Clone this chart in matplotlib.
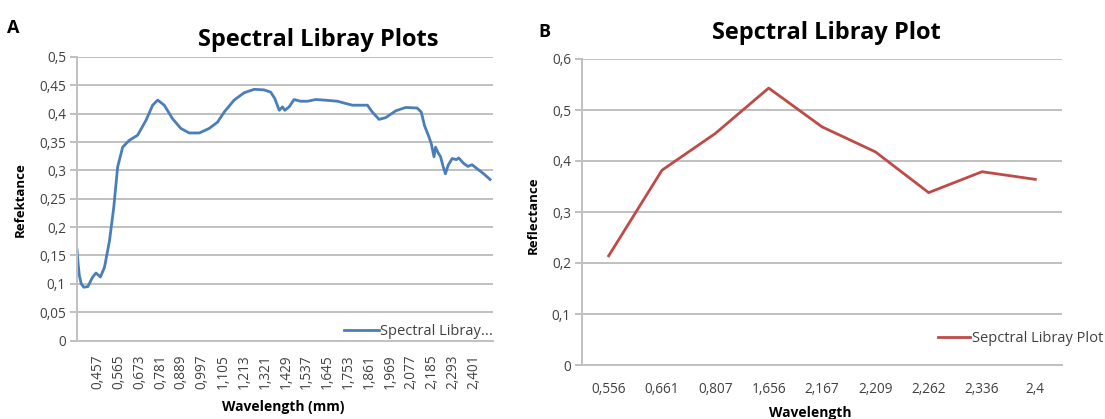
import matplotlib
matplotlib.use("Agg")
import matplotlib.pyplot as plt

plt.rcParams['font.family'] = ['Open Sans', 'DejaVu Sans']

# panel A: spectral curve (wavelength in um, reflectance)
wave_a = [0.350, 0.356, 0.362, 0.372, 0.385, 0.406, 0.431, 0.448, 0.471, 0.492,
          0.518, 0.540, 0.560, 0.586, 0.620, 0.663, 0.706, 0.741, 0.767, 0.801,
          0.844, 0.887, 0.930, 0.982, 1.033, 1.076, 1.111, 1.162, 1.214, 1.266,
          1.317, 1.351, 1.372, 1.395, 1.412, 1.424, 1.446, 1.472, 1.506, 1.541,
          1.584, 1.627, 1.696, 1.739, 1.773, 1.851, 1.876, 1.911, 1.945, 1.997,
          2.048, 2.108, 2.129, 2.146, 2.169, 2.181, 2.195, 2.203, 2.215, 2.229,
          2.243, 2.254, 2.268, 2.289, 2.311, 2.323, 2.346, 2.370, 2.392, 2.418,
          2.452, 2.485]
refl_a = [0.160, 0.135, 0.115, 0.100, 0.094, 0.095, 0.112, 0.119, 0.112, 0.129,
          0.176, 0.235, 0.306, 0.341, 0.353, 0.362, 0.388, 0.415, 0.424, 0.415,
          0.391, 0.374, 0.366, 0.366, 0.374, 0.385, 0.403, 0.424, 0.437, 0.443,
          0.442, 0.438, 0.427, 0.406, 0.412, 0.406, 0.412, 0.425, 0.422, 0.422,
          0.425, 0.424, 0.422, 0.418, 0.415, 0.415, 0.403, 0.390, 0.393, 0.405,
          0.411, 0.410, 0.403, 0.379, 0.359, 0.347, 0.324, 0.341, 0.332, 0.324,
          0.306, 0.294, 0.309, 0.321, 0.319, 0.322, 0.313, 0.307, 0.310, 0.303,
          0.294, 0.284]
ticks_a = [0.457, 0.565, 0.673, 0.781, 0.889, 0.997, 1.105, 1.213, 1.321, 1.429,
           1.537, 1.645, 1.753, 1.861, 1.969, 2.077, 2.185, 2.293, 2.401]
yticks_a = [0, 0.05, 0.1, 0.15, 0.2, 0.25, 0.3, 0.35, 0.4, 0.45, 0.5]

# panel B: category plot
cats_b = ["0,556", "0,661", "0,807", "1,656", "2,167", "2,209", "2,262", "2,336", "2,4"]
refl_b = [0.214, 0.382, 0.454, 0.543, 0.467, 0.418, 0.338, 0.379, 0.364]
yticks_b = [0, 0.1, 0.2, 0.3, 0.4, 0.5, 0.6]

grey = "#404040"
grid = "#c0c0c0"
tsize = 9.8


def comma(v, fmt):
    return fmt.format(v).replace(".", ",")


def style(ax):
    ax.grid(axis="y", color=grid, lw=1.4)
    ax.set_axisbelow(True)
    for s in ["top", "right"]:
        ax.spines[s].set_visible(False)
    for s in ["left", "bottom"]:
        ax.spines[s].set_color(grid)
        ax.spines[s].set_linewidth(1.4)
    ax.tick_params(axis="y", length=5, color=grid, width=1.4, labelcolor=grey,
                   labelsize=tsize, pad=3)
    ax.tick_params(axis="x", length=0, labelcolor=grey, labelsize=tsize)


fig = plt.figure(figsize=(11.05, 4.19), dpi=100)

# ---- A ----
ax1 = fig.add_axes([77 / 1105, 1 - 340.5 / 419, 416 / 1105, 283.5 / 419])
ax1.plot(wave_a, refl_a, color="#4a7ebb", lw=2.0, label="Spectral Libray...")
ax1.set_xlim(0.35, 2.5)
ax1.set_ylim(0, 0.5)
ax1.set_yticks(yticks_a)
ax1.set_yticklabels(["0" if v == 0 else comma(v, "{:g}") for v in yticks_a])
ax1.set_xticks(ticks_a)
ax1.set_xticklabels([comma(v, "{:.3f}") for v in ticks_a], rotation=90)
style(ax1)
ax1.tick_params(axis="x", pad=10)
ax1.legend(loc="center right", bbox_to_anchor=(1.0, 0.03), frameon=False,
           handlelength=2.4, handletextpad=0.05, borderpad=0, borderaxespad=0,
           prop={"size": 10.5}, labelcolor=grey)

fig.text(318 / 1105, 1 - 40 / 419, "Spectral Libray Plots", ha="center", va="center",
         fontsize=17, fontweight="bold")
fig.text(283 / 1105, 1 - 407 / 419, "Wavelength (mm)", ha="center", va="center",
         fontsize=10, fontweight="bold")
fig.text(20 / 1105, 1 - 200 / 419, "Refektance", ha="center", va="center",
         rotation=90, fontsize=9.5, fontweight="bold")
fig.text(13 / 1105, 1 - 28 / 419, "A", ha="center", va="center", fontsize=13, fontweight="bold")

# ---- B ----
ax2 = fig.add_axes([582 / 1105, 1 - 365 / 419, 480 / 1105, 306 / 419])
xb = list(range(len(cats_b)))
ax2.plot(xb, refl_b, color="#be4b48", lw=2.0, label="Sepctral Libray Plot")
ax2.set_xlim(-0.5, len(cats_b) - 0.5)
ax2.set_ylim(0, 0.6)
ax2.set_yticks(yticks_b)
ax2.set_yticklabels(["0" if v == 0 else comma(v, "{:g}") for v in yticks_b])
ax2.set_xticks(xb)
ax2.set_xticklabels(cats_b)
style(ax2)
ax2.tick_params(axis="x", pad=12)
ax2.legend(loc="center left", bbox_to_anchor=(0.742, 0.085), frameon=False,
           handlelength=2.2, handletextpad=0.1, borderpad=0, borderaxespad=0,
           prop={"size": 10.5}, labelcolor=grey)

fig.text(826 / 1105, 1 - 33 / 419, "Sepctral Libray Plot", ha="center", va="center",
         fontsize=17, fontweight="bold")
fig.text(810 / 1105, 1 - 413 / 419, "Wavelength", ha="center", va="center",
         fontsize=10, fontweight="bold")
fig.text(533 / 1105, 1 - 215 / 419, "Reflectance", ha="center", va="center",
         rotation=90, fontsize=9.5, fontweight="bold")
fig.text(544 / 1105, 1 - 32 / 419, "B", ha="center", va="center", fontsize=13, fontweight="bold")

fig.savefig("out.png", dpi=100)
